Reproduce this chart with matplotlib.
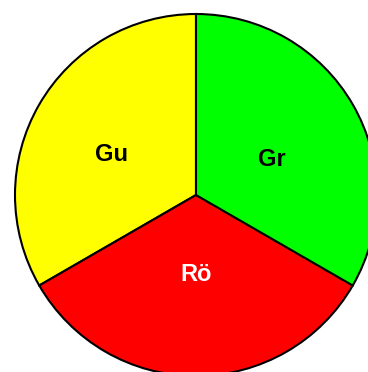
import matplotlib
matplotlib.use('Agg')
import matplotlib.pyplot as plt

# slice names, sizes and colours (counter-clockwise from the top)
labels = ['Gu', 'Rö', 'Gr']
sizes = [1, 1, 1]
colors = ['#ffff00', '#ff0000', '#00ff00']
text_colors = ['black', 'white', 'black']

# where each label sits inside its slice (pie radius = 1)
label_pos = [(-0.467, 0.222), (0.0, -0.44), (0.42, 0.195)]

fig = plt.figure(figsize=(3.68, 3.72), dpi=100)
# place the axes so that the pie runs slightly off the right and bottom edges
ax = fig.add_axes([15 / 368, -4 / 372, 362 / 368, 362 / 372])

wedges, _ = ax.pie(sizes, colors=colors, startangle=90, counterclock=True,
                   radius=1.0,
                   wedgeprops=dict(edgecolor='black', linewidth=1.5))
for w in wedges:
    w.set_clip_on(False)

for lab, (x, y), c in zip(labels, label_pos, text_colors):
    ax.text(x, y, lab, ha='center', va='center', color=c,
            fontsize=17, fontweight='bold', family='Liberation Sans')

ax.set_xlim(-1, 1)
ax.set_ylim(-1, 1)
ax.set_aspect('equal')
ax.axis('off')

fig.savefig('out.png', dpi=100)
